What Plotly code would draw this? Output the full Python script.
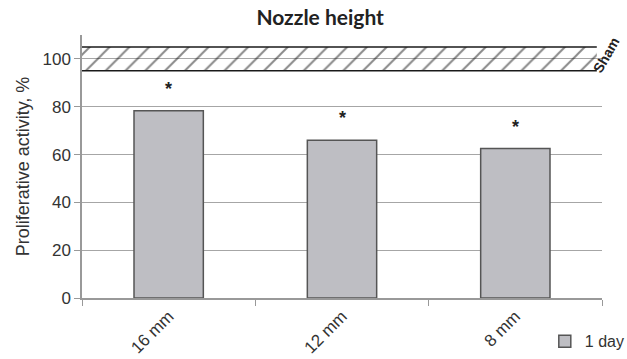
import plotly.graph_objects as go

categories = ["16 mm", "12 mm", "8 mm"]
values_1day = [78.3, 66.0, 62.5]
significance = ["*", "*", "*"]
sham_mean = 100
sham_low = 95
sham_high = 105
sham_span = [0, 0.99]
y_ticks = [0, 20, 40, 60, 80, 100]

FONT = "Liberation Sans"

fig = go.Figure()

fig.add_trace(go.Bar(
    x=categories, y=values_1day, name="1 day", width=0.40,
    marker=dict(color="#bebec3", line=dict(color="#555555", width=1.5)),
    showlegend=True,
))

# Sham band (overlay numeric axis)
fig.add_trace(go.Scatter(
    x=[sham_span[0], sham_span[1], sham_span[1], sham_span[0], sham_span[0]],
    y=[sham_low, sham_low, sham_high, sham_high, sham_low],
    xaxis="x2", mode="lines", fill="toself", line=dict(width=0),
    fillcolor="rgba(0,0,0,0)",
    fillpattern=dict(shape="/", fgcolor="#111111", bgcolor="rgba(0,0,0,0)", size=14, solidity=0.14),
    showlegend=False, hoverinfo="skip",
))
for yv in [sham_low, sham_high]:
    fig.add_trace(go.Scatter(
        x=sham_span, y=[yv, yv], xaxis="x2", mode="lines",
        line=dict(color="#1a1a1a", width=1.5), showlegend=False, hoverinfo="skip",
    ))

for c, v, s in zip(categories, values_1day, significance):
    fig.add_annotation(x=c, y=v, text="<b>%s</b>" % s, showarrow=False,
                       yanchor="middle", yshift=22,
                       font=dict(family=FONT, size=18, color="#222222"))

fig.add_annotation(xref="paper", yref="y", x=1.008, y=sham_mean, text="<b>Sham</b>",
                   textangle=-60, showarrow=False, xanchor="center", yanchor="middle",
                   yshift=4, font=dict(family=FONT, size=14, color="#222222"))

fig.update_layout(
    width=627, height=359,
    margin=dict(l=82, r=25, t=35, b=61, autoexpand=False),
    paper_bgcolor="white", plot_bgcolor="white",
    title=dict(text="<b>Nozzle height</b>", x=0.458, xref="paper", xanchor="center",
               y=0.952, yref="container", yanchor="middle",
               font=dict(family="Lato", size=21, color="#222222")),
    font=dict(family=FONT, size=16, color="#333333"),
    xaxis=dict(
        type="category", tickson="boundaries", ticks="outside", ticklen=6,
        tickcolor="#999999", showline=True, linecolor="#999999", linewidth=1.5,
        showgrid=False, tickangle=-45, range=[-0.5, 2.5],
        tickfont=dict(family=FONT, size=17, color="#333333"),
    ),
    xaxis2=dict(overlaying="x", range=[0, 1], visible=False),
    yaxis=dict(
        range=[0, 110], tickvals=y_ticks, ticks="outside", ticklen=6,
        tickcolor="#999999", showline=True, linecolor="#999999", linewidth=1.5,
        showgrid=True, gridcolor="#a6a6a6", gridwidth=1, zeroline=False,
        tickfont=dict(family=FONT, size=17, color="#333333"),
        title=dict(text="Proliferative activity, %", standoff=8,
                   font=dict(family=FONT, size=18, color="#333333")),
    ),
    legend=dict(x=0.89, y=-0.1, xanchor="left", yanchor="top",
                bgcolor="rgba(0,0,0,0)", font=dict(family=FONT, size=16, color="#333333"),
                itemwidth=30, tracegroupgap=0),
    bargap=0.6,
)

fig.write_html("out.html", config={"displayModeBar": False},
               post_script="document.body.style.margin='0';document.body.style.overflow='hidden';")
